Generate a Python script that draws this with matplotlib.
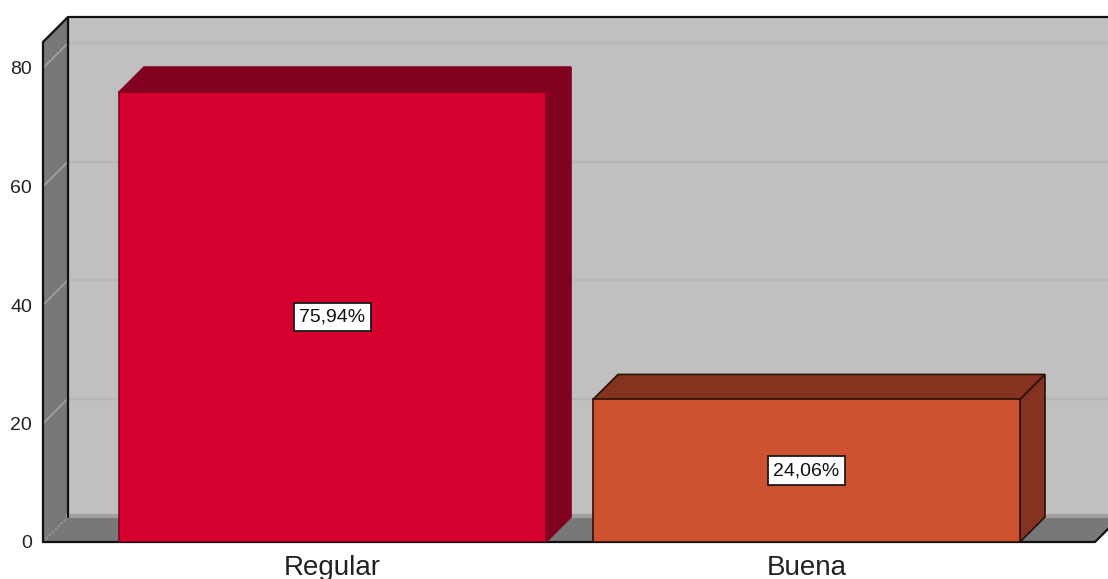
import matplotlib
matplotlib.use('Agg')
import matplotlib.pyplot as plt

categories = ['Regular', 'Buena']
values = [75.94, 24.06]
value_labels = ['75,94%', '24,06%']
y_ticks = [0, 20, 40, 60, 80]

front_colors = ['#d6002e', '#cf5230']
side_colors = ['#820020', '#843320']
edge_colors = ['#80001f', '#2a1008']

W, H = 1108, 579
BASE_Y, TOP_Y = 542, 17
LEFT_X = 43
CENTER_X = 332.5
UNIT_X = 474.0     # pixels between the two bars
UNIT_Y = 5.925     # pixels per percent
DEPTH = 25         # pixels of 3d offset
FONT = 'Liberation Sans'

fig = plt.figure(figsize=(W / 100, H / 100), dpi=100)
ax = fig.add_axes([LEFT_X / W, (H - BASE_Y) / H, (W - LEFT_X) / W, (BASE_Y - TOP_Y) / H])
ax.set_xlim((LEFT_X - CENTER_X) / UNIT_X, (W - CENTER_X) / UNIT_X)
ax.set_ylim(0, (BASE_Y - TOP_Y) / UNIT_Y)
for s in ax.spines.values():
    s.set_visible(False)
ax.patch.set_visible(False)

dx = DEPTH / UNIT_X
dy = DEPTH / UNIT_Y
x0 = ax.get_xlim()[0]
x1 = (1095 - CENTER_X) / UNIT_X
top = ax.get_ylim()[1] - dy
bar_w = 427 / UNIT_X

# back wall, side wall and floor
ax.fill([x0 + dx, x1 + dx + 1, x1 + dx + 1, x0 + dx], [dy, dy, top + dy, top + dy], color='#c0c0c0', zorder=1)
ax.fill([x0, x0 + dx, x0 + dx, x0], [0, dy, top + dy, top], color='#787878', zorder=1)
ax.fill([x0, x1, x1 + dx, x0 + dx], [0, 0, dy, dy], color='#787878', zorder=1)
ax.plot([x0 + dx, x1 + dx], [dy + 0.25, dy + 0.25], color='#a0a0a0', lw=3, zorder=1.5)

# gridlines on wall and side
for t in y_ticks[1:]:
    ax.plot([x0 + dx, x1 + dx], [t + dy, t + dy], color='#b6b6b6', lw=1.5, zorder=1.5)
    ax.plot([x0, x0 + dx], [t, t + dy], color='#a0a0a0', lw=1.3, zorder=1.5)
ax.plot([x0, x0 + dx], [0, dy], color='#9a9a9a', lw=1, ls=(0, (2, 1)), zorder=1.5)

# frame
line = dict(color='#111111', lw=1.6, zorder=2, clip_on=False, solid_capstyle='round')
ax.plot([x0, x0, x0 + dx, x1 + dx + 1], [0, top, top + dy, top + dy], **line)
ax.plot([x0 + dx, x0 + dx], [dy, top + dy], **line)
ax.plot([x0, x1, x1 + dx], [0, 0, dy], **line)

# bars
positions = list(range(len(categories)))
ax.bar(positions, values, width=bar_w, color=front_colors, edgecolor=edge_colors, linewidth=1.2, zorder=4)
for p, v, side, edge in zip(positions, values, side_colors, edge_colors):
    l, r = p - bar_w / 2, p + bar_w / 2
    ax.fill([l, r, r + dx, l + dx], [v, v, v + dy, v + dy], facecolor=side, edgecolor=edge, lw=1.2, zorder=3)
    ax.fill([r, r + dx, r + dx, r], [0, dy, v + dy, v], facecolor=side, edgecolor=edge, lw=1.2, zorder=3)

for p, v, lab in zip(positions, values, value_labels):
    ax.text(p, v / 2, lab, ha='center', va='center', fontsize=14, family=FONT, color='#111111', zorder=6,
            bbox=dict(boxstyle='square,pad=0.3', facecolor='white', edgecolor='#1a1a1a', linewidth=1.3))

ax.set_xticks(positions)
ax.set_xticklabels(categories, fontsize=20, family=FONT, color='#222222')
ax.set_yticks(y_ticks)
ax.set_yticklabels([str(t) for t in y_ticks], fontsize=14, family=FONT, color='#222222')
ax.tick_params(axis='both', length=0)
ax.tick_params(axis='y', pad=8)
ax.tick_params(axis='x', pad=9.5)

fig.savefig('out.png', dpi=100)
